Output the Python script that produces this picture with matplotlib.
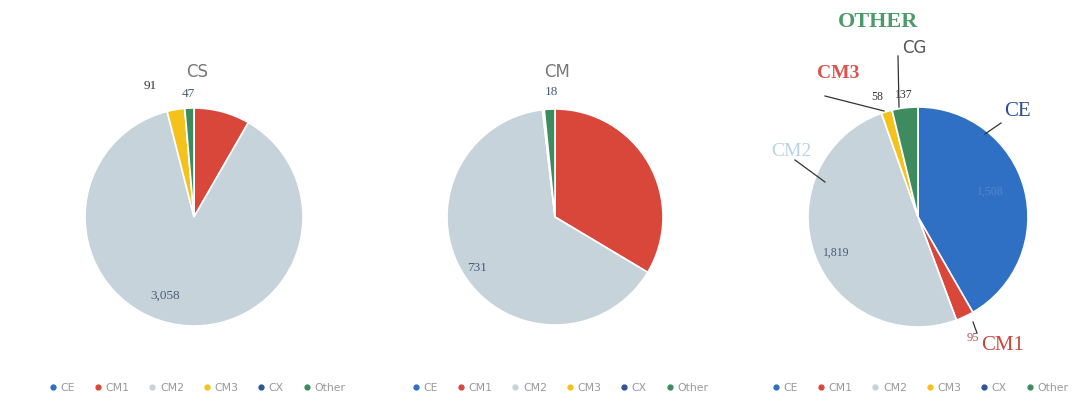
import matplotlib.pyplot as plt
from matplotlib.lines import Line2D

categories = ['CE', 'CM1', 'CM2', 'CM3', 'CX', 'Other']
cs_values = [0, 290, 3058, 91, 0, 47]
cm_values = [0, 380, 731, 3, 0, 18]
cg_values = [1508, 95, 1819, 58, 0, 137]

colors = ['#2F6FC4', '#D8473A', '#C6D3DB', '#F4C21B', '#2F5597', '#3F8B60']

W, H = 1078, 413
fig = plt.figure(figsize=(W / 100, H / 100), dpi=100)


def px(x, y):
    return x / W, 1 - y / H


def pie_axes(cx, cy, r):
    # axes 3r wide, radius 1 in data units
    s = 3 * r
    ax = fig.add_axes([(cx - s / 2) / W, (H - cy - s / 2) / H, s / W, s / H])
    return ax


def draw(ax, vals):
    ax.pie(vals, colors=colors, startangle=90, counterclock=False,
           wedgeprops=dict(edgecolor='white', linewidth=1.2))
    ax.set_xlim(-1.5, 1.5)
    ax.set_ylim(-1.5, 1.5)
    ax.set_aspect('equal')
    ax.axis('off')


ax1 = pie_axes(194, 217, 109)
draw(ax1, cs_values)
ax2 = pie_axes(555, 217, 108)
draw(ax2, cm_values)
ax3 = pie_axes(918, 217, 110)
draw(ax3, cg_values)

serif = 'Liberation Serif'
valc = '#4A5A78'

# titles
fig.text(*px(197, 72), 'CS', ha='center', va='center', fontsize=12, color='#777777')
fig.text(*px(557, 72), 'CM', ha='center', va='center', fontsize=12, color='#777777')

# value labels, CS
fig.text(*px(150, 86), f'{cs_values[3]:,}', ha='center', va='center', fontsize=9.5,
         family=serif, color='#333333')
fig.text(*px(188, 94), f'{cs_values[5]:,}', ha='center', va='center', fontsize=9.5,
         family=serif, color=valc)
fig.text(*px(165, 296), f'{cs_values[2]:,}', ha='center', va='center', fontsize=9.5,
         family=serif, color=valc)

# value labels, CM
fig.text(*px(551, 92), f'{cm_values[5]:,}', ha='center', va='center', fontsize=9.5,
         family=serif, color=valc)
fig.text(*px(477, 268), f'{cm_values[2]:,}', ha='center', va='center', fontsize=9.5,
         family=serif, color=valc)

# value labels, third chart
fig.text(*px(877, 97), f'{cg_values[3]:,}', ha='center', va='center', fontsize=8.5,
         family=serif, color='#333333')
fig.text(*px(904, 95), f'{cg_values[5]:,}', ha='center', va='center', fontsize=8.5,
         family=serif, color='#333333')
fig.text(*px(836, 253), f'{cg_values[2]:,}', ha='center', va='center', fontsize=8.5,
         family=serif, color=valc)
fig.text(*px(990, 192), f'{cg_values[0]:,}', ha='center', va='center', fontsize=8.5,
         family=serif, color='#5B86C8')
fig.text(*px(973, 338), f'{cg_values[1]:,}', ha='center', va='center', fontsize=9,
         family=serif, color='#C0504D')

# callouts
fig.text(*px(878, 22), 'OTHER', ha='center', va='center', fontsize=16,
         family=serif, weight='bold', color='#4C9A6A')
fig.text(*px(914, 48), 'CG', ha='center', va='center', fontsize=12, color='#555555')
fig.text(*px(838, 73), 'CM3', ha='center', va='center', fontsize=14,
         family=serif, weight='bold', color='#D9534F')
fig.text(*px(791, 151), 'CM2', ha='center', va='center', fontsize=14,
         family=serif, color='#B9D3E3')
fig.text(*px(1017, 112), 'CE', ha='center', va='center', fontsize=15,
         family=serif, color='#2C4F8C')
fig.text(*px(1003, 345), 'CM1', ha='center', va='center', fontsize=15,
         family=serif, color='#C9463F')

lines = [((898, 56), (899, 107)), ((825, 96), (884, 111)),
         ((795, 160), (825, 182)), ((1001, 123), (985, 134)),
         ((973, 322), (977, 333))]
for (x0, y0), (x1, y1) in lines:
    a, b = px(x0, y0)
    c, d = px(x1, y1)
    fig.add_artist(Line2D([a, c], [b, d], color='#333333', lw=0.9))

# legends
handles = [Line2D([], [], marker='o', ls='', markersize=3.5, color=c) for c in colors]
for cx in (197, 560, 920):
    fig.legend(handles, categories, loc='center', bbox_to_anchor=px(cx, 388),
               ncol=6, frameon=False, fontsize=7.8, handletextpad=0.3,
               columnspacing=1.7, labelcolor='#999999', handlelength=0.8)

plt.savefig('out.png', dpi=100)
